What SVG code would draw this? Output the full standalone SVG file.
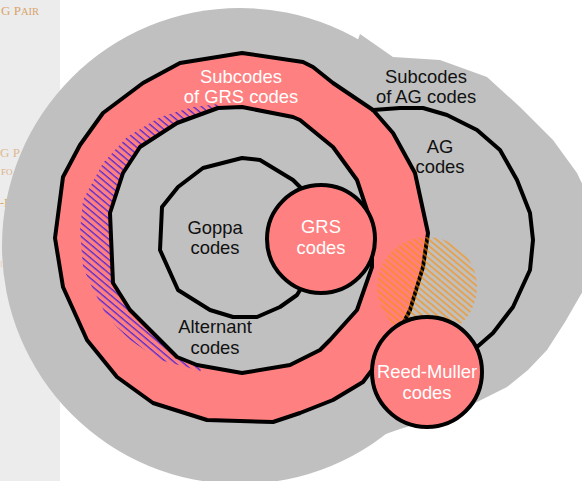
<svg xmlns="http://www.w3.org/2000/svg" width="582" height="481" viewBox="0 0 582 481">
<style>
.ol{stroke:#000;stroke-width:4;stroke-linejoin:round;stroke-linecap:round}
.pk{fill:#ff8080}
.gr{fill:#c0c0c0}
.t{font-family:"Liberation Sans",Arial,sans-serif;font-size:18.4px;text-anchor:middle}
.w{fill:#fff}
.b{fill:#111}
.s{font-family:"Liberation Serif","Times New Roman",serif;fill:#d9a46c}
</style>
<defs>
<pattern id="hB" width="5.2" height="10" patternUnits="userSpaceOnUse" patternTransform="rotate(-50)">
<line x1="1" y1="0" x2="1" y2="10" stroke="#0000ff" stroke-width="0.9"/>
</pattern>
<pattern id="hO" width="4.8" height="10" patternUnits="userSpaceOnUse" patternTransform="rotate(-50)">
<line x1="1" y1="0" x2="1" y2="10" stroke="#ff8c00" stroke-width="1.1"/>
</pattern>
</defs>
<rect width="582" height="481" fill="#fff"/>
<g id="side">
<rect x="0" y="0" width="60" height="481" fill="#ececec"/>
<text class="s" x="1" y="15" font-size="13">G P<tspan font-size="10.5">AIR</tspan></text>
<text class="s" x="0" y="157" font-size="13" opacity="0.7">G P<tspan font-size="10.5">AIR</tspan></text>
<text class="s" x="1" y="175" font-size="9" opacity="0.8">FO</text>
<text class="s" x="0" y="207" font-size="12" fill="#c98a45">-E</text>
<text class="s" x="0" y="267" font-size="8" opacity="0.4">IN</text>
</g>
<g id="background">
<circle class="gr" cx="240" cy="246" r="238"/>
<polygon class="gr" points="360,34 393,57 440,60 487,77 520,107 553,140 577,173 590,200 590,280 580,296 565,322 547,350 528,370 507,387 467,407 430,420 400,429 363,442 300,440 300,200"/>
</g>
<g id="subcodes-grs">
<polygon class="pk ol" points="242,53 303,62 313,67 333,83 373,110 393,133 415,173 428,233 423,267 410,310 395,340 372,370 363,382 333,400 300,413 273,422 207,420 153,403 117,377 87,340 63,287 55,238 63,177 80,145 103,113 143,83 180,63"/>
<polygon fill="url(#hB)" points="219,104 193,107 160,117 127,137 103,163 83,200 80,230 83,267 90,283 107,317 130,340 160,360 190,368 200,372 230,300 230,180"/>
</g>
<g id="alternant">
<polygon class="gr ol" points="242,107 293,117 300,120 333,147 357,180 368,213 372,240 372,267 357,310 330,340 320,350 290,365 242,373 197,365 177,357 130,310 113,283 110,213 123,173 140,147 177,123 218,108"/>
</g>
<g id="subcodes-ag">
<path class="ol" fill="none" d="M373,110 L400,108 L423,108 L447,115 L477,130 L500,150 L517,180 L530,213 L533,240 L530,270 L513,307 L493,333 L477,347"/>
</g>
<g id="goppa">
<polygon class="gr ol" points="242,158 260,160 293,180 300,187 320,240 300,290 297,295 280,307 257,317 233,317 210,310 178,290 160,250 162,207 178,187 203,168"/>
</g>
<g id="grs">
<circle class="pk ol" cx="321" cy="239" r="54"/>
</g>
<g id="overlap">
<circle fill="url(#hO)" cx="427" cy="287" r="50"/>
</g>
<g id="reed-muller">
<circle class="pk ol" cx="427" cy="372" r="55"/>
</g>
<g id="labels">
<text class="t w" x="241" y="83">Subcodes</text>
<text class="t w" x="241" y="103">of GRS codes</text>
<text class="t b" x="426" y="83">Subcodes</text>
<text class="t b" x="426" y="103">of AG codes</text>
<text class="t b" x="440" y="153">AG</text>
<text class="t b" x="440" y="173">codes</text>
<text class="t b" x="215" y="234">Goppa</text>
<text class="t b" x="215" y="254">codes</text>
<text class="t w" x="321" y="233">GRS</text>
<text class="t w" x="321" y="254">codes</text>
<text class="t b" x="215" y="333">Alternant</text>
<text class="t b" x="215" y="354">codes</text>
<text class="t w" x="427" y="378">Reed-Muller</text>
<text class="t w" x="427" y="399">codes</text>
</g>
</svg>
